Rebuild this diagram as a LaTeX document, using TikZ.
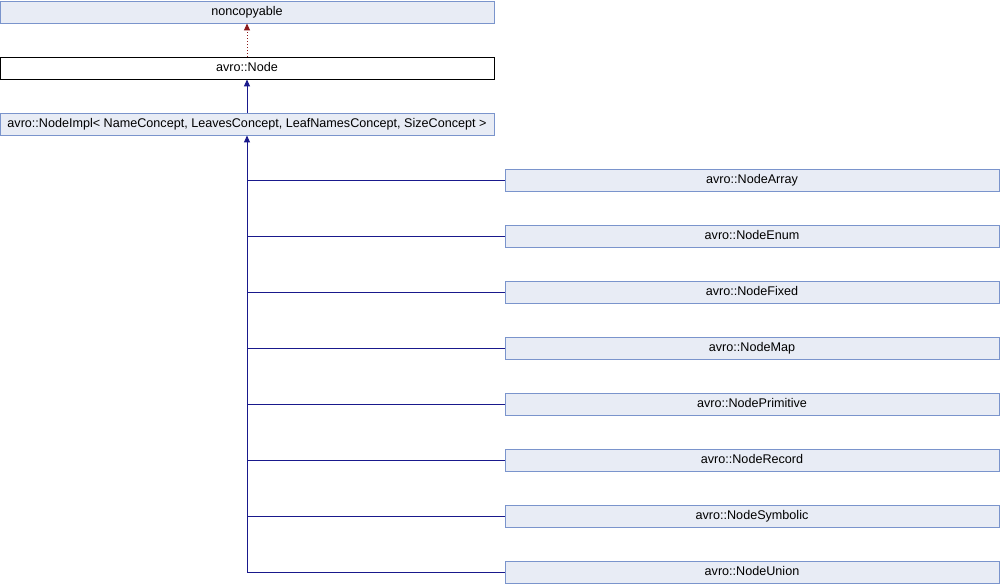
\documentclass[tikz,border=0pt]{standalone}
\usepackage{fontspec}
\setmainfont{Liberation Sans}
\usetikzlibrary{arrows.meta}
\definecolor{boxfill}{RGB}{232,236,245}
\definecolor{boxline}{RGB}{122,148,204}
\definecolor{edgeblue}{RGB}{25,25,140}
\definecolor{edgered}{RGB}{139,26,26}
\begin{document}
\begin{tikzpicture}[x=1pt,y=-1pt,
  cls/.style={draw=boxline,fill=boxfill,line width=0.9pt,minimum height=22pt,inner sep=0pt,text height=8.5pt,text depth=2.5pt,font=\fontsize{12.6}{14}\selectfont},
  clsmain/.style={cls,draw=black,fill=white},
  pub/.style={draw=edgeblue,line width=1pt},
  pubarrow/.style={pub,-{Triangle[length=7pt,width=6pt]}},
  privarrow/.style={draw=edgered,line width=1pt,dotted,-{Triangle[length=7pt,width=6pt,fill=edgered]}}]
\useasboundingbox (0,0) rectangle (1000,584);
\node[cls,minimum width=494pt] (nc) at (247,12) {noncopyable};
\node[clsmain,minimum width=494pt] (node) at (247,68) {avro::Node};
\node[cls,minimum width=494pt] (impl) at (247,124) {avro::NodeImpl< NameConcept, LeavesConcept, LeafNamesConcept, SizeConcept >};
\foreach \n/\t [count=\i from 0] in {arr/NodeArray,enm/NodeEnum,fix/NodeFixed,map/NodeMap,prim/NodePrimitive,rec/NodeRecord,sym/NodeSymbolic,uni/NodeUnion}{
  \node[cls,minimum width=494pt] (\n) at (752,180+56*\i) {avro::\t};
}
\draw[privarrow] (node.north) -- (nc.south);
\draw[pubarrow] (impl.north) -- (node.south);
\coordinate (tail) at (247,572);
\draw[pubarrow] (tail) -- (impl.south);
\foreach \n in {arr,enm,fix,map,prim,rec,sym,uni}{
  \draw[pub] (\n.west) -- (tail |- \n.west);
}
\end{tikzpicture}
\end{document}
